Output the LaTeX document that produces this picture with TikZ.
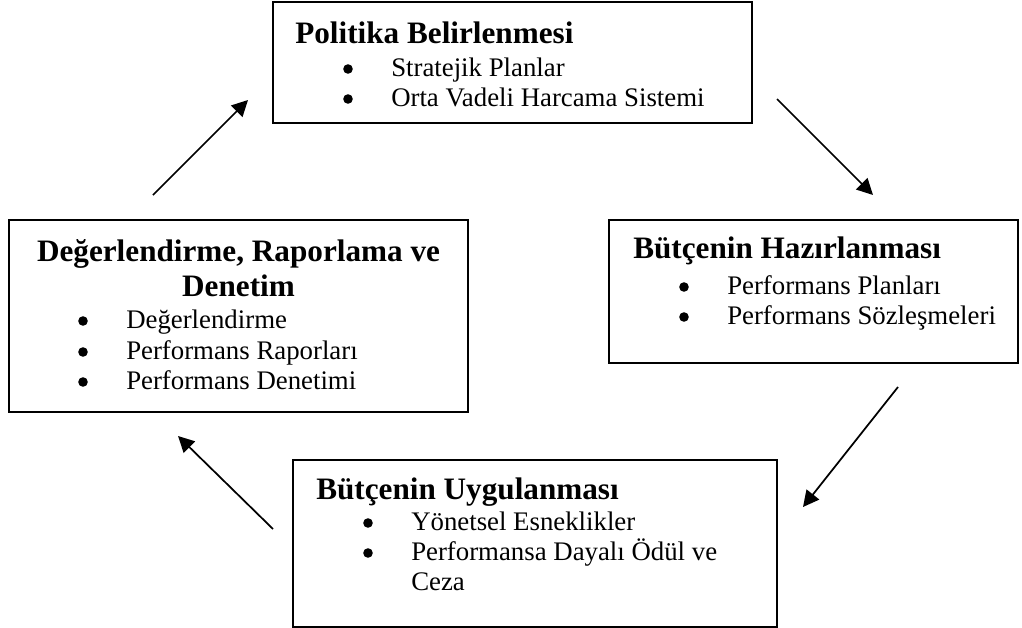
\documentclass[tikz,border=0pt]{standalone}
\usepackage{fontspec}
\setmainfont{Liberation Serif}
\usetikzlibrary{arrows.meta,fit}
\begin{document}
\begin{tikzpicture}[x=0.75pt,y=-0.75pt,
  box/.style={draw, line width=1.4pt, inner sep=0pt},
  ttl/.style={font=\fontsize{23.4pt}{26pt}\selectfont\bfseries, anchor=base west, inner sep=0pt},
  ttlc/.style={ttl, anchor=base},
  itm/.style={font=\fontsize{20.1pt}{22.5pt}\selectfont, anchor=base west, inner sep=0pt},
  bul/.style={circle, fill, inner sep=0pt, minimum size=7.2pt},
  arr/.style={line width=1.3pt, -{Triangle[length=12pt,width=12pt]}}]
\useasboundingbox (0,0) rectangle (1022,628);
% boxes
\node[box, fit={(273,2) (752,123)}] (top) {};
\node[box, fit={(9,220) (468,412)}] (left) {};
\node[box, fit={(609,220) (1018,363)}] (right) {};
\node[box, fit={(293,460) (777,627)}] (bottom) {};
% top box text
\node[ttl] (t0) at (295,43) {Politika Belirlenmesi};
\node[bul] (tb1) at (348,69) {};
\node[itm] (t1) at (391,76) {Stratejik Planlar};
\node[bul] (tb2) at (348,99) {};
\node[itm] (t2) at (391,106) {Orta Vadeli Harcama Sistemi};
% left box text
\node[ttlc] (l0) at (238.5,261) {Değerlendirme, Raporlama ve};
\node[ttlc] (l0b) at (238.5,296) {Denetim};
\node[bul] (lb1) at (83,321) {};
\node[itm] (l1) at (126,328) {Değerlendirme};
\node[bul] (lb2) at (83,352) {};
\node[itm] (l2) at (126,359) {Performans Raporları};
\node[bul] (lb3) at (83,382) {};
\node[itm] (l3) at (126,389) {Performans Denetimi};
% right box text
\node[ttl] (r0) at (633,258) {Bütçenin Hazırlanması};
\node[bul] (rb1) at (684,287) {};
\node[itm] (r1) at (727,294) {Performans Planları};
\node[bul] (rb2) at (684,317) {};
\node[itm] (r2) at (727,324) {Performans Sözleşmeleri};
% bottom box text
\node[ttl] (b0) at (316,499) {Bütçenin Uygulanması};
\node[bul] (bb1) at (368,523) {};
\node[itm] (b1) at (411,530) {Yönetsel Esneklikler};
\node[bul] (bb2) at (368,553) {};
\node[itm] (b2) at (411,560) {Performansa Dayalı Ödül ve};
\node[itm] (b3) at (411,590) {Ceza};
% arrows
\coordinate (a1s) at (153,195); \coordinate (a1e) at (248,100);
\coordinate (a2s) at (777,99);  \coordinate (a2e) at (873,195);
\coordinate (a3s) at (898,387); \coordinate (a3e) at (803,507);
\coordinate (a4s) at (273,529); \coordinate (a4e) at (178,436);
\draw[arr] (a1s) -- (a1e);
\draw[arr] (a2s) -- (a2e);
\draw[arr] (a3s) -- (a3e);
\draw[arr] (a4s) -- (a4e);
\end{tikzpicture}
\end{document}
